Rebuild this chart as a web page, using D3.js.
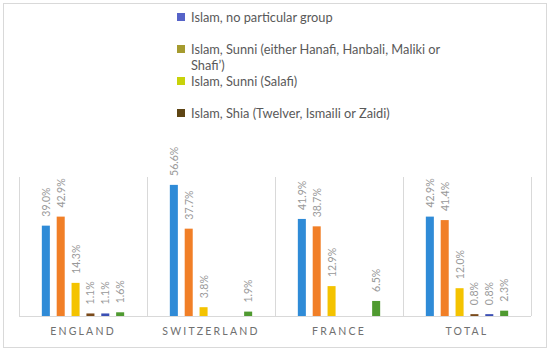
<!DOCTYPE html>
<html><head><meta charset="utf-8">
<script src="https://cdn.jsdelivr.net/npm/d3@7"></script>
<style>body{margin:0;background:#fff}svg{display:block}</style>
</head><body>
<script>
const categories = ["ENGLAND", "SWITZERLAND", "FRANCE", "TOTAL"];
const seriesNames = [
  "Islam, no particular group",
  "Islam, Sunni (either Hanafi, Hanbali, Maliki or Shafi’)",
  "Islam, Sunni (Salafi)",
  "Islam, Shia (Twelver, Ismaili or Zaidi)",
  "Series 5",
  "Series 6"
];
const s1 = [39.0, 56.6, 41.9, 42.9];
const s2 = [42.9, 37.7, 38.7, 41.4];
const s3 = [14.3, 3.8, 12.9, 12.0];
const s4 = [1.1, null, null, 0.8];
const s5 = [1.1, null, null, 0.8];
const s6 = [1.6, 1.9, 6.5, 2.3];
const seriesValues = [s1, s2, s3, s4, s5, s6];
const barColors = ["#2F8BD7", "#F17F27", "#F4C300", "#7A4A1A", "#3B4FB4", "#4F9A30"];
const legendColors = ["#5663C8", "#A59B2F", "#C8D20A", "#5E4514"];
const legendLines = [["Islam, no particular group"], ["Islam, Sunni (either Hanafi, Hanbali, Maliki or", "Shafi’)"], ["Islam, Sunni (Salafi)"], ["Islam, Shia (Twelver, Ismaili or Zaidi)"]];

const W = 550, H = 352;
const svg = d3.select("body").append("svg").attr("width", W).attr("height", H);
svg.append("rect").attr("x", 3.5).attr("y", 3.5).attr("width", 543).attr("height", 344)
  .attr("fill", "#fff").attr("stroke", "#D9D9D9");

const x0 = d3.scaleBand().domain(categories).range([19, 531]).padding(0);
const x1 = d3.scaleBand().domain(d3.range(6)).range([16, 112]).padding(0.46);
const y = d3.scaleLinear().domain([0, 60]).range([316, 177]);

const seps = [...categories.map(c => x0(c)), 531];
svg.selectAll("line.sep").data(seps).enter().append("line")
  .attr("x1", d => d + 0.5).attr("x2", d => d + 0.5)
  .attr("y1", y(60)).attr("y2", y(0)).attr("stroke", "#D9D9D9");
svg.append("line").attr("x1", 19).attr("x2", 531).attr("y1", y(0) + 0.5).attr("y2", y(0) + 0.5).attr("stroke", "#D9D9D9");

const data = [];
categories.forEach((c, ci) => seriesValues.forEach((sv, si) => {
  if (sv[ci] != null) data.push({c, si, v: sv[ci]});
}));
const bx = d => x0(d.c) + x1(d.si);
svg.selectAll("rect.bar").data(data).enter().append("rect")
  .attr("x", bx).attr("width", x1.bandwidth())
  .attr("y", d => y(d.v)).attr("height", d => y(0) - y(d.v))
  .attr("fill", d => barColors[d.si]);

svg.selectAll("text.val").data(data).enter().append("text")
  .attr("transform", d => `translate(${bx(d) + x1.bandwidth() / 2},${y(d.v) - 9}) rotate(-90)`)
  .attr("dominant-baseline", "central")
  .attr("font-family", "Lato, 'Open Sans', sans-serif").attr("font-size", 10.5)
  .attr("fill", "#999999").text(d => d.v.toFixed(1) + "%");

svg.selectAll("text.cat").data(categories).enter().append("text")
  .attr("x", d => x0(d) + x0.bandwidth() / 2).attr("y", 335)
  .attr("text-anchor", "middle").attr("font-family", "Lato, 'Open Sans', sans-serif")
  .attr("font-size", 10.5).attr("letter-spacing", "2.2px").attr("fill", "#707070").text(d => d);

const lg = svg.append("g");
const ys = [17, 49, 81, 113];
legendLines.forEach((lines, i) => {
  lg.append("rect").attr("x", 177).attr("y", ys[i] - 4).attr("width", 8).attr("height", 8).attr("fill", legendColors[i]);
  lines.forEach((t, j) => {
    lg.append("text").attr("x", 191).attr("y", ys[i] + j * 16).attr("dominant-baseline", "central")
      .attr("font-family", "Lato, 'Open Sans', sans-serif").attr("font-size", 12.8).attr("fill", "#595959").text(t);
  });
});
</script>
</body></html>
